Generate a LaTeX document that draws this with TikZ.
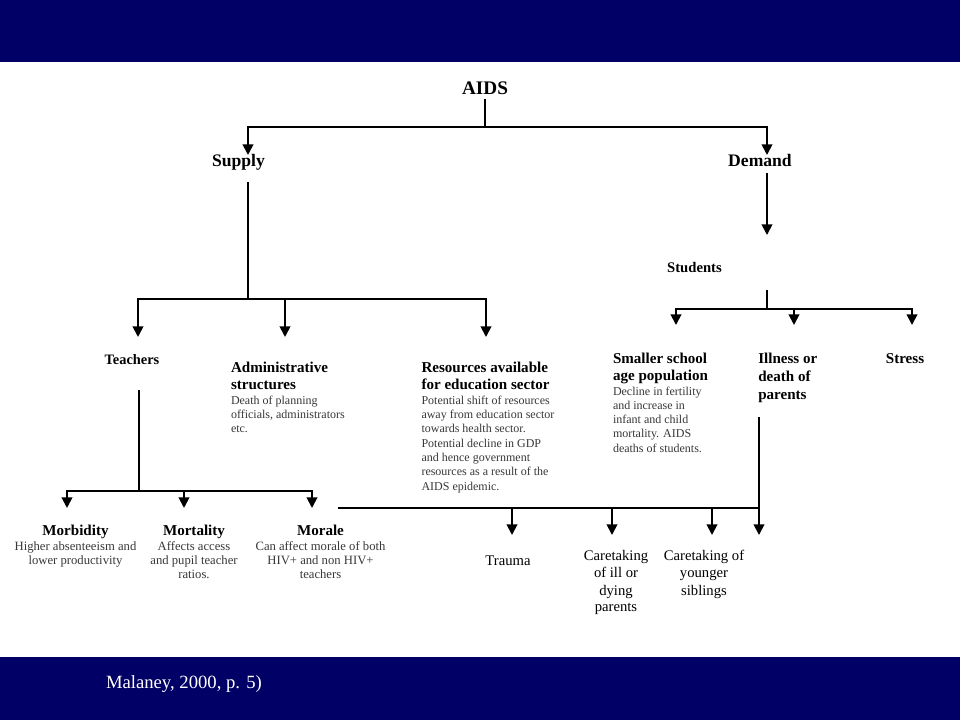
\documentclass[tikz,border=0pt]{standalone}
\usepackage{fontspec}
\setmainfont{Liberation Serif}
\usetikzlibrary{arrows.meta}
\definecolor{navy}{HTML}{000066}
\definecolor{bodygray}{HTML}{383838}
\newdimen\pxu \pxu=0.75pt
\newdimen\cw \cw=150\pxu
\newcommand\Stk[1]{\vtop{\baselineskip=0pt\lineskip=0pt\lineskiplimit=-\maxdimen #1}}
\newcommand\Lf[1]{\hbox{#1}}
\newcommand\Ln[2]{\vskip#1\pxu\hbox{#2}}
\newcommand\Cf[1]{\hbox to\cw{\hss#1\hss}}
\newcommand\Cn[2]{\vskip#1\pxu\hbox to\cw{\hss#2\hss}}
\newcommand\HD{\fontsize{11.3}{13}\selectfont\bfseries}
\newcommand\BD{\fontsize{9}{11}\selectfont\color{bodygray}}
\newcommand\BDb{\fontsize{9.5}{11}\selectfont\color{bodygray}}
\newcommand\RG{\fontsize{11}{13}\selectfont}
\tikzset{
  ln/.style={line width=1.4pt},
  arr/.style={line width=1.4pt,-{Triangle[width=8pt,length=8pt]}},
  txt/.style={inner sep=0pt,outer sep=0pt},
}
\begin{document}
\begin{tikzpicture}[x=0.75pt,y=-0.75pt]
\useasboundingbox (0,0) rectangle (960,720);
\fill[white] (0,0) rectangle (960,720);
\fill[navy] (0,0) rectangle (960,62);
\fill[navy] (0,657) rectangle (960,720);

% top level
\node[txt,font=\fontsize{14.4}{16}\selectfont\bfseries] (aids) at (485,88) {AIDS};
\node[txt,anchor=base,font=\fontsize{13.2}{15}\selectfont\bfseries] (supply) at (238.5,167) {Supply};
\node[txt,anchor=base,font=\fontsize{13.2}{15}\selectfont\bfseries] (demand) at (760,167) {Demand};
\node[txt,anchor=base,font=\fontsize{11}{13}\selectfont\bfseries] (students) at (694.5,273) {Students};

% supply children
\node[txt,anchor=base,font=\fontsize{10.8}{13}\selectfont\bfseries] (teachers) at (132,364) {Teachers};
\node[txt,anchor=base west] (admin) at (231,372.7) {\Stk{%
  \Lf{\HD Administrative}%
  \Ln{16.3}{\HD structures}%
  \Ln{15}{\BD Death of planning}%
  \Ln{14.3}{\BD officials, administrators}%
  \Ln{14.3}{\BD etc.}}};
\node[txt,anchor=base west] (res) at (421.5,372.7) {\Stk{%
  \Lf{\HD Resources available}%
  \Ln{16.3}{\HD for education sector}%
  \Ln{15}{\BD Potential shift of resources}%
  \Ln{14.4}{\BD away from education sector}%
  \Ln{14.4}{\BD towards health sector.}%
  \Ln{14.4}{\BD Potential decline in GDP}%
  \Ln{14.4}{\BD and hence government}%
  \Ln{14.4}{\BD resources as a result of the}%
  \Ln{14.4}{\BD AIDS epidemic.}}};

% students children
\node[txt,anchor=base west] (small) at (613,363.3) {\Stk{%
  \Lf{\HD Smaller school}%
  \Ln{16.7}{\HD age population}%
  \Ln{15}{\BD Decline in fertility}%
  \Ln{14.3}{\BD and increase in}%
  \Ln{14.3}{\BD infant and child}%
  \Ln{14.3}{\BD mortality. AIDS}%
  \Ln{14.3}{\BD deaths of students.}}};
\node[txt,anchor=base west] (illness) at (758.3,363.3) {\Stk{%
  \Lf{\HD Illness or}%
  \Ln{17.7}{\HD death of}%
  \Ln{18}{\HD parents}}};
\node[txt,anchor=base,font=\HD] (stress) at (905,363.3) {Stress};

% teachers children
\node[txt,anchor=base] (morbidity) at (75.5,535) {\Stk{%
  \Cf{\HD Morbidity}%
  \Cn{15}{\BDb Higher absenteeism and}%
  \Cn{14.3}{\BDb lower productivity}}};
\node[txt,anchor=base] (mortality) at (194,535) {\Stk{%
  \Cf{\HD Mortality}%
  \Cn{15}{\BDb Affects access}%
  \Cn{14.3}{\BDb and pupil teacher}%
  \Cn{14.3}{\BDb ratios.}}};
\node[txt,anchor=base] (morale) at (320.5,535) {\Stk{%
  \Cf{\HD Morale}%
  \Cn{15}{\BDb Can affect morale of both}%
  \Cn{14.3}{\BDb HIV+ and non HIV+}%
  \Cn{14.3}{\BDb teachers}}};

% illness children
\node[txt,anchor=base,font=\RG] (trauma) at (508,565) {Trauma};
\node[txt,anchor=base] (care1) at (616,560.7) {\Stk{%
  \Cf{\RG Caretaking}%
  \Cn{17}{\RG of ill or}%
  \Cn{17.3}{\RG dying}%
  \Cn{16.7}{\RG parents}}};
\node[txt,anchor=base] (care2) at (704,560.7) {\Stk{%
  \Cf{\RG Caretaking of}%
  \Cn{17}{\RG younger}%
  \Cn{17.3}{\RG siblings}}};

% footer
\node[txt,anchor=base west,text=white,font=\fontsize{14}{16}\selectfont] (src) at (106,688) {Malaney, 2000, p. 5)};

% connectors
\coordinate (sAids) at (485,99);
\coordinate (aidsbar) at (485,127);
\coordinate (tSup) at (248,155);
\coordinate (tDem) at (767,155);
\draw[ln] (sAids) -- (aidsbar);
\draw[arr] (aidsbar) -| (tSup);
\draw[arr] (aidsbar) -| (tDem);

\coordinate (sSup) at (248,182);
\coordinate (supbar) at (248,299);
\coordinate (tTea) at (138,337);
\coordinate (tAdm) at (285,337);
\coordinate (tRes) at (486,337);
\draw[ln] (sSup) -- (supbar);
\draw[arr] (supbar) -| (tTea);
\draw[arr] (supbar) -| (tAdm);
\draw[arr] (supbar) -| (tRes);

\coordinate (sDem) at (767,173);
\coordinate (tStu) at (767,235);
\draw[arr] (sDem) -- (tStu);

\coordinate (sStu) at (767,290);
\coordinate (stubar) at (767,309);
\coordinate (tSma) at (676,325);
\coordinate (tIll) at (794,325);
\coordinate (tStr) at (912,325);
\draw[ln] (sStu) -- (stubar);
\draw[arr] (stubar) -| (tSma);
\draw[arr] (stubar) -| (tIll);
\draw[arr] (stubar) -| (tStr);

\coordinate (sTea) at (139,390);
\coordinate (teabar) at (139,491);
\coordinate (tMorb) at (67,508);
\coordinate (tMort) at (184,508);
\coordinate (tMora) at (312,508);
\draw[ln] (sTea) -- (teabar);
\draw[arr] (teabar) -| (tMorb);
\draw[arr] (teabar) -| (tMort);
\draw[arr] (teabar) -| (tMora);

\coordinate (sIll) at (759,417);
\coordinate (illbar) at (759,508);
\coordinate (illend) at (338,508);
\coordinate (tTra) at (512,535);
\coordinate (tCa1) at (612,535);
\coordinate (tCa2) at (712,535);
\coordinate (tIll2) at (759,535);
\draw[arr] (sIll) -- (tIll2);
\draw[ln] (illbar) -- (illend);
\draw[arr] (illbar -| tTra) -- (tTra);
\draw[arr] (illbar -| tCa1) -- (tCa1);
\draw[arr] (illbar -| tCa2) -- (tCa2);
\end{tikzpicture}
\end{document}
